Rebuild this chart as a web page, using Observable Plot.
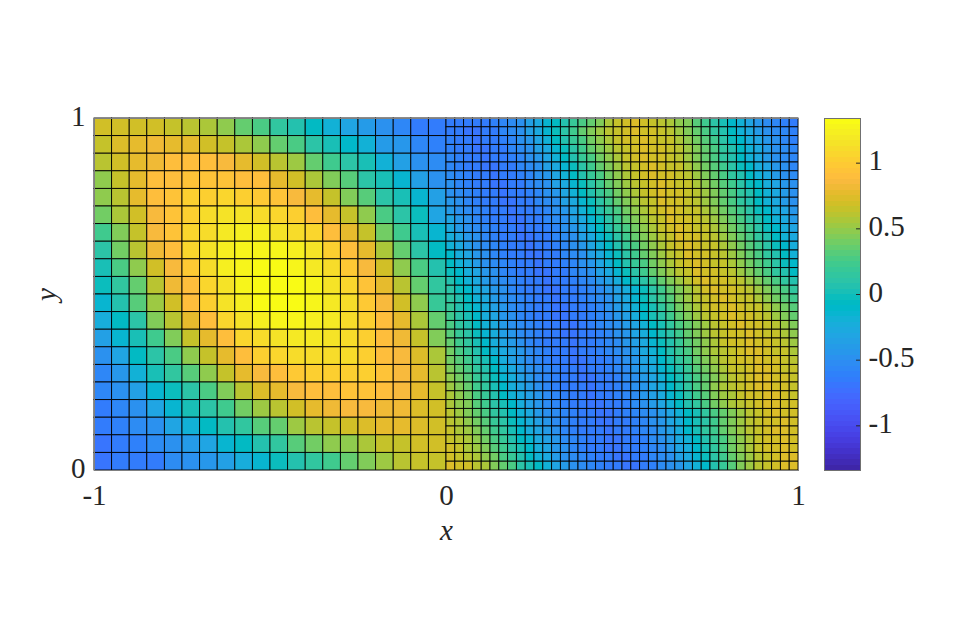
<!DOCTYPE html>
<html>
<head>
<meta charset="utf-8">
<script src="https://cdn.jsdelivr.net/npm/d3@7"></script>
<script src="https://cdn.jsdelivr.net/npm/@observablehq/plot@0.6"></script>
<style>
html,body{margin:0;padding:0;background:#fff;}
#wrap{position:relative;width:957px;height:634px;overflow:hidden;}
#wrap svg{position:absolute;left:0;top:0;background:transparent;}
svg [aria-label$="axis label"] text, svg g[aria-label$="-axis label"]{font-style:italic;}
</style>
</head>
<body>
<div id="wrap"></div>
<script>
// Colormap levels (bottom to top of the colour bar)
const palette = ["#3e26a8","#402ab4","#422ec0","#4332cb","#4537d5","#463cde","#4741e5","#4747eb","#484df0","#4852f4","#4758f8","#465efb","#4563fd","#4269fe","#3e6fff","#3875fe","#327cfc","#2f81fa","#2e87f7","#2d8cf3","#2b91ef","#2797eb","#259be8","#23a0e5","#20a5e3","#1ca9df","#18addb","#12b1d6","#08b5d0","#01b8ca","#02bac3","#0bbdbd","#19bfb6","#24c1ae","#2cc4a7","#31c69f","#37c897","#3fca8e","#4acb84","#57cc7a","#64cd6f","#72cd64","#81cc59","#8fcb4e","#9dc943","#abc739","#b9c431","#c5c22a","#d1bf27","#dcbd29","#e6bb2d","#f0ba36","#f8ba3d","#febe3c","#fec338","#fec934","#fccf30","#fad62d","#f7dc2a","#f5e327","#f5e924","#f6ef20","#f7f51b","#f9fb15"];
const colorDomain = [-1.34, 1.34];
const barTicks = [-1, -0.5, 0, 0.5, 1];
const xTicks = [-1, 0, 1];
const yTicks = [0, 1];

// Left block: 20 x 20 cells, values x100, top row first
const leftRows = [
[68,70,70,68,63,60,55,47,36,28,15,5,-8,-18,-32,-38,-50,-58,-72,-72],
[66,72,76,80,78,76,70,65,58,50,35,28,12,0,-12,-20,-38,-45,-58,-68],
[62,70,78,83,88,90,88,84,78,70,60,52,35,22,10,0,-18,-35,-50,-55],
[50,66,78,88,92,95,96,96,90,88,78,70,58,42,30,12,0,-14,-35,-48],
[47,60,76,88,94,102,104,106,104,100,94,86,78,66,45,32,12,0,-15,-35],
[38,58,70,87,94,103,110,114,114,113,108,103,92,78,66,48,28,10,-3,-30],
[25,45,66,85,95,105,113,120,124,122,117,112,105,92,78,67,38,22,2,-15],
[10,38,60,80,90,105,115,125,126,127,127,124,115,103,88,78,58,35,12,-5],
[4,28,50,70,86,100,113,122,127,131,132,127,120,113,100,87,70,50,28,8],
[-3,15,35,62,80,92,108,117,127,132,133,133,126,117,105,93,78,60,35,15],
[-14,5,30,52,70,88,103,115,124,130,133,133,126,120,112,100,86,68,50,20],
[-25,-6,12,42,60,78,92,105,115,125,126,126,124,118,112,102,88,77,58,35],
[-35,-13,3,24,43,66,78,90,105,113,117,120,118,115,110,102,90,82,67,46],
[-50,-30,-7,10,28,50,66,78,92,103,106,113,112,113,110,103,92,84,72,58],
[-58,-42,-18,0,14,33,48,66,78,87,92,100,103,104,104,103,93,85,77,62],
[-62,-50,-35,-15,-2,12,28,45,60,72,78,85,90,92,93,93,90,84,78,65],
[-70,-58,-48,-33,-15,0,12,22,38,52,62,70,76,80,84,86,83,80,75,68],
[-74,-66,-55,-48,-33,-17,-5,6,14,30,36,52,60,64,68,72,76,77,73,70],
[-75,-72,-66,-55,-48,-38,-30,-15,-5,5,16,30,38,47,50,58,63,67,70,68],
[-77,-74,-74,-70,-55,-50,-44,-36,-24,-13,-3,6,13,25,36,46,52,62,66,66]
];

// Right block: 40 x 40 cells, values x100, top row first
const rightRows = [
[-72,-73,-74,-74,-72,-68,-62,-55,-47,-36,-26,-13,-5,5,17,27,37,46,55,64,68,74,70,64,60,55,48,42,33,22,10,0,-10,-20,-33,-42,-52,-60,-68,-74],
[-70,-72,-75,-75,-73,-69,-63,-56,-47,-37,-26,-14,-2,11,23,34,44,53,60,66,70,72,71,69,65,60,53,45,36,26,16,5,-7,-18,-28,-38,-47,-55,-62,-67],
[-68,-72,-74,-75,-74,-71,-66,-60,-51,-42,-31,-20,-8,5,17,28,39,48,57,63,68,71,72,70,67,63,57,49,40,31,21,10,-1,-12,-23,-33,-43,-51,-59,-65],
[-65,-70,-73,-75,-75,-73,-69,-63,-56,-47,-37,-26,-14,-2,11,23,34,44,53,60,66,70,72,71,69,65,60,53,45,36,26,16,5,-7,-18,-28,-38,-47,-55,-62],
[-62,-68,-72,-74,-75,-74,-71,-66,-60,-51,-42,-31,-20,-8,5,17,28,39,48,57,63,68,72,71,69,65,60,53,45,36,26,16,5,-7,-18,-28,-38,-47,-55,-62],
[-59,-65,-70,-73,-75,-75,-73,-69,-63,-56,-47,-37,-26,-14,-2,11,23,34,44,53,60,66,70,72,70,67,63,57,49,40,31,21,10,-1,-12,-23,-33,-43,-51,-59],
[-55,-62,-68,-72,-74,-75,-74,-71,-66,-60,-51,-42,-31,-20,-8,5,17,28,39,48,57,63,68,72,71,69,65,60,53,45,36,26,16,5,-7,-18,-28,-38,-47,-55],
[-51,-59,-65,-70,-73,-75,-75,-73,-69,-63,-56,-47,-37,-26,-14,-2,11,23,34,44,53,60,66,70,72,70,67,63,57,49,40,31,21,10,-1,-12,-23,-33,-43,-51],
[-47,-55,-62,-68,-72,-74,-75,-74,-71,-66,-60,-51,-42,-31,-20,-8,5,17,28,39,48,57,63,68,72,71,69,65,60,53,45,36,26,16,5,-7,-18,-28,-38,-47],
[-43,-51,-59,-65,-70,-73,-75,-75,-73,-69,-63,-56,-47,-37,-26,-14,-2,11,23,34,44,53,60,66,72,71,69,65,60,53,45,36,26,16,5,-7,-18,-28,-38,-47],
[-38,-47,-55,-62,-68,-72,-74,-75,-74,-71,-66,-60,-51,-42,-31,-20,-8,5,17,28,39,48,57,63,70,72,70,67,63,57,49,40,31,21,10,-1,-12,-23,-33,-43],
[-33,-43,-51,-59,-65,-70,-73,-75,-75,-73,-69,-63,-56,-47,-37,-26,-14,-2,11,23,34,44,53,60,66,72,71,69,65,60,53,45,36,26,16,5,-7,-18,-28,-38],
[-28,-38,-47,-55,-62,-68,-72,-74,-75,-74,-71,-66,-60,-51,-42,-31,-20,-8,5,17,28,39,48,57,63,70,72,70,67,63,57,49,40,31,21,10,-1,-12,-23,-33],
[-23,-33,-43,-51,-59,-65,-70,-73,-75,-75,-73,-69,-63,-56,-47,-37,-26,-14,-2,11,23,34,44,53,60,66,72,71,69,65,60,53,45,36,26,16,5,-7,-18,-28],
[-18,-28,-38,-47,-55,-62,-68,-72,-74,-75,-74,-71,-66,-60,-51,-42,-31,-20,-8,5,17,28,39,48,57,63,70,72,70,67,63,57,49,40,31,21,10,-1,-12,-23],
[-12,-23,-33,-43,-51,-59,-65,-70,-73,-75,-75,-73,-69,-63,-56,-47,-37,-26,-14,-2,11,23,34,44,53,60,66,72,71,69,65,60,53,45,36,26,16,5,-7,-18],
[-7,-18,-28,-38,-47,-55,-62,-68,-72,-74,-75,-74,-71,-66,-60,-51,-42,-31,-20,-8,5,17,28,39,48,57,63,70,72,70,67,63,57,49,40,31,21,10,-1,-12],
[-1,-12,-23,-33,-43,-51,-59,-65,-70,-73,-75,-75,-73,-69,-63,-56,-47,-37,-26,-14,-2,11,23,34,44,53,60,66,72,71,69,65,60,53,45,36,26,16,5,-7],
[5,-7,-18,-28,-38,-47,-55,-62,-68,-72,-74,-75,-74,-71,-67,-61,-54,-45,-35,-24,-12,0,12,24,35,45,54,62,68,72,71,69,65,60,53,45,36,26,16,5],
[10,-1,-12,-23,-33,-43,-51,-59,-65,-70,-73,-75,-75,-74,-71,-67,-61,-54,-46,-36,-25,-13,-1,11,23,34,45,54,62,68,72,71,69,65,60,53,45,36,26,16],
[16,5,-7,-18,-28,-38,-47,-55,-62,-68,-72,-74,-75,-74,-72,-67,-62,-55,-47,-37,-27,-15,-3,9,21,32,43,52,60,66,71,72,70,67,63,57,49,40,31,21],
[19,8,-4,-15,-25,-36,-45,-53,-60,-66,-71,-73,-75,-75,-73,-69,-64,-58,-50,-41,-31,-20,-8,4,16,27,38,48,56,63,68,71,72,70,67,63,57,49,40,31],
[23,12,0,-11,-22,-33,-42,-51,-58,-65,-69,-73,-75,-75,-74,-71,-66,-60,-53,-44,-35,-24,-12,0,12,23,34,44,53,60,66,70,72,71,69,65,60,53,45,36],
[26,16,5,-7,-18,-28,-38,-47,-55,-62,-68,-72,-74,-75,-75,-72,-68,-63,-56,-49,-40,-30,-19,-8,3,15,26,37,46,54,61,66,70,72,71,69,65,60,53,45],
[30,20,9,-3,-14,-25,-35,-45,-53,-60,-66,-71,-73,-75,-75,-73,-70,-65,-58,-51,-43,-33,-22,-11,0,12,23,34,44,52,59,65,69,71,72,70,67,63,57,49],
[34,24,13,2,-10,-21,-31,-41,-50,-58,-64,-69,-72,-74,-75,-74,-71,-66,-60,-53,-45,-36,-26,-15,-3,8,20,31,41,50,57,63,68,71,72,71,69,65,60,53],
[38,28,18,7,-5,-17,-27,-37,-46,-55,-61,-67,-71,-74,-75,-74,-72,-68,-62,-56,-48,-39,-29,-18,-7,5,17,27,38,47,55,61,66,70,72,72,70,67,63,57],
[41,32,22,11,0,-12,-23,-34,-43,-52,-59,-65,-69,-73,-75,-75,-73,-69,-64,-58,-50,-42,-32,-22,-11,1,13,24,35,44,52,59,65,69,71,72,71,69,65,60],
[45,36,26,16,5,-7,-18,-28,-38,-47,-55,-62,-68,-72,-74,-75,-74,-71,-66,-60,-53,-45,-36,-26,-15,-4,8,20,31,41,49,57,63,67,71,72,72,70,67,63],
[48,40,30,20,9,-3,-14,-25,-35,-44,-53,-60,-66,-70,-73,-75,-75,-73,-69,-64,-57,-49,-40,-30,-20,-8,3,15,26,36,46,54,61,66,70,72,72,71,69,65],
[52,43,34,24,13,2,-10,-21,-31,-41,-50,-58,-64,-69,-72,-74,-75,-74,-70,-65,-59,-51,-42,-32,-21,-10,2,14,26,37,47,55,62,67,70,72,72,71,69,65],
[55,47,38,28,18,7,-5,-17,-27,-37,-46,-55,-61,-67,-71,-74,-75,-74,-72,-67,-61,-54,-46,-36,-26,-14,-3,9,21,32,42,51,58,64,68,71,72,72,70,67],
[58,50,42,32,22,11,0,-12,-23,-34,-43,-52,-59,-65,-69,-73,-75,-75,-73,-69,-64,-57,-49,-40,-30,-19,-7,5,16,28,38,48,56,62,67,70,72,72,71,69],
[60,53,45,36,26,16,5,-7,-18,-28,-38,-47,-55,-62,-68,-72,-74,-75,-75,-72,-68,-63,-56,-49,-40,-30,-19,-8,3,15,26,37,46,54,61,66,70,72,71,69],
[62,56,49,40,30,20,9,-3,-14,-25,-35,-45,-53,-60,-66,-71,-73,-75,-75,-73,-70,-65,-58,-51,-43,-33,-22,-11,0,12,23,34,44,52,59,65,69,71,72,70],
[64,58,52,43,34,24,13,2,-10,-21,-31,-41,-50,-58,-64,-69,-72,-74,-75,-74,-71,-66,-60,-53,-44,-34,-23,-11,1,13,25,36,46,54,61,66,70,72,72,70],
[66,61,55,47,38,28,18,7,-5,-16,-27,-37,-46,-55,-61,-67,-71,-73,-75,-75,-73,-69,-64,-57,-49,-40,-29,-18,-6,6,18,29,40,49,57,63,68,71,72,71],
[68,64,58,51,42,33,23,12,1,-11,-22,-32,-42,-51,-59,-65,-69,-73,-75,-75,-74,-71,-66,-60,-52,-43,-33,-22,-10,2,15,27,38,48,57,63,68,71,72,71],
[70,66,61,55,47,38,28,18,7,-5,-17,-28,-38,-47,-55,-62,-67,-71,-74,-75,-75,-73,-69,-63,-56,-47,-37,-26,-14,-2,11,23,34,44,53,60,66,70,72,72],
[72,70,68,62,55,45,36,28,12,2,-5,-17,-30,-40,-50,-55,-60,-68,-72,-74,-76,-78,-72,-65,-55,-50,-42,-30,-18,-10,5,18,30,45,52,60,65,70,72,72]
];

// My colour reading ran too low at the blue end: compress readings below -0.45 back toward it
const calibrate = v => v < -0.45 ? -0.45 + (v + 0.45) * 0.75 : v;

// Table of mesh cells, built from the arrays above
function toCells(rows, xStart, xEnd) {
  const ny = rows.length, nx = rows[0].length, dx = (xEnd - xStart) / nx;
  return rows.flatMap((row, j) => row.map((v, i) => ({
    x1: xStart + i * dx, x2: xStart + (i + 1) * dx,
    y1: 1 - (j + 1) / ny, y2: 1 - j / ny, value: calibrate(v / 100)
  })));
}
const cells = [...toCells(leftRows, -1, 0), ...toCells(rightRows, 0, 1)];
const colorScale = {type: "quantize", domain: colorDomain, range: palette};
const ink = "#262626";
const serif = "'Liberation Serif', 'DejaVu Serif', serif";

const main = Plot.plot({
  width: 957, height: 634,
  marginLeft: 94, marginRight: 159, marginTop: 118, marginBottom: 164,
  style: {fontFamily: serif, fontSize: "29px", color: ink, background: "transparent"},
  x: {domain: [-1, 1]},
  y: {domain: [0, 1]},
  color: colorScale,
  marks: [
    Plot.rect(cells, {x1: "x1", x2: "x2", y1: "y1", y2: "y2", fill: "value", stroke: "#000", strokeWidth: 0.9}),
    Plot.frame({stroke: "#808080", strokeWidth: 1}),
    Plot.axisX({ticks: xTicks, tickSize: 0, tickPadding: 14, tickFormat: d => String(d), label: "x", labelAnchor: "center", labelArrow: "none", labelOffset: 69, fill: ink, color: ink}),
    Plot.axisY({ticks: yTicks, tickSize: 0, tickPadding: 9, dy: -2, tickFormat: d => String(d), label: "y", labelAnchor: "center", labelArrow: "none", labelOffset: 59, fill: ink, color: ink})
  ]
});

// Colour bar, one rect per colormap level
const step = (colorDomain[1] - colorDomain[0]) / palette.length;
const levels = palette.map((c, i) => ({y1: colorDomain[0] + i * step, y2: colorDomain[0] + (i + 1) * step, mid: colorDomain[0] + (i + .5) * step}));
const bar = Plot.plot({
  width: 957, height: 634,
  marginLeft: 824, marginRight: 97, marginTop: 118, marginBottom: 164,
  style: {fontFamily: serif, fontSize: "29px", color: ink, background: "transparent"},
  x: {domain: [0, 1], axis: null},
  y: {domain: colorDomain, axis: null},
  color: colorScale,
  marks: [
    Plot.rect(levels, {x1: 0, x2: 1, y1: "y1", y2: "y2", fill: "mid", shapeRendering: "crispEdges"}),
    Plot.frame({stroke: "#707070", strokeWidth: 1}),
    Plot.ruleY(barTicks, {x1: 0.89, x2: 1, stroke: ink, strokeWidth: 1}),
    Plot.axisY({anchor: "right", ticks: barTicks, tickSize: 0, tickPadding: 8, dy: -2, tickFormat: d => String(d), label: null, textAnchor: "start", fill: ink, color: ink})
  ]
});
document.getElementById("wrap").append(main, bar);
</script>
</body>
</html>
